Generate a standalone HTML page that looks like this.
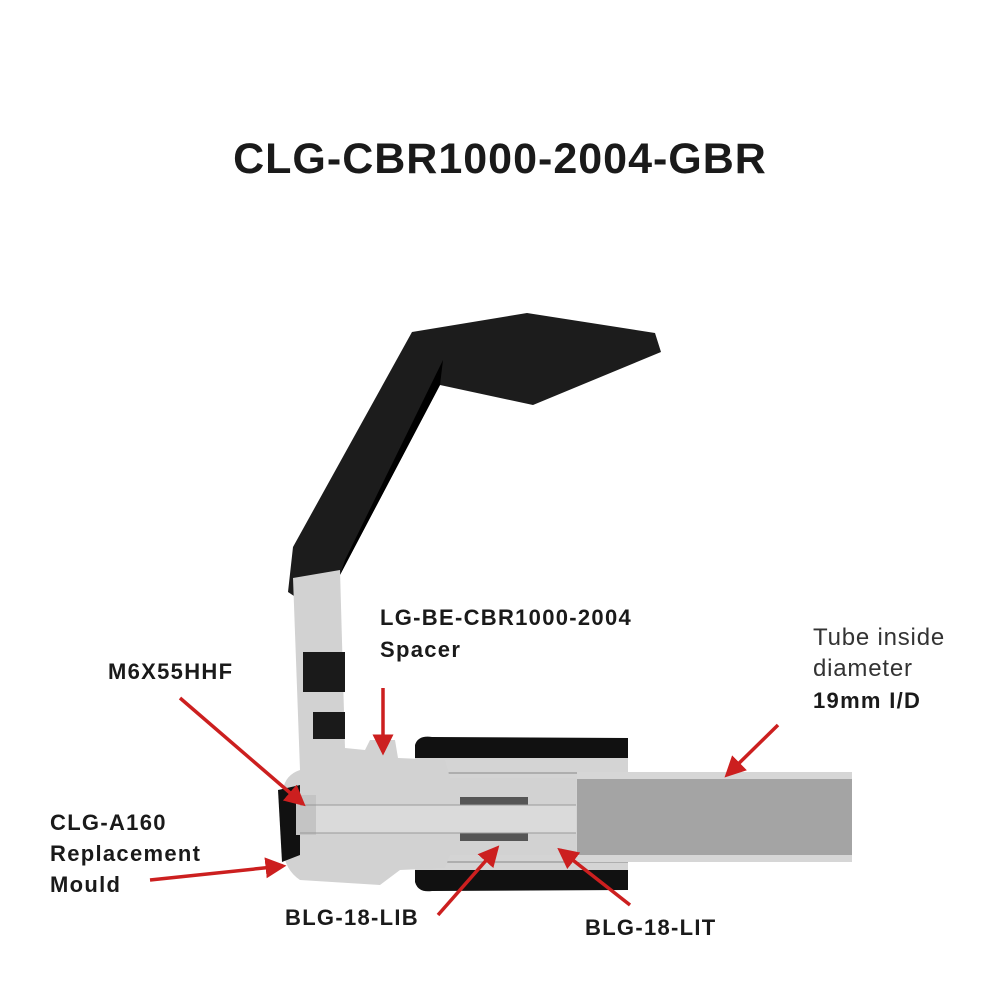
<!DOCTYPE html>
<html><head><meta charset="utf-8"><style>
html,body{margin:0;padding:0;background:#fff;}
svg{display:block;}
text{font-family:"Liberation Sans",sans-serif;fill:#1a1a1a;}
.b{font-weight:bold;font-size:22px;letter-spacing:1.3px;}
.n{font-size:24px;fill:#333;letter-spacing:0.8px;}
</style></head><body>
<svg width="1000" height="1000" viewBox="0 0 1000 1000" xmlns="http://www.w3.org/2000/svg">
<defs>
<marker id="ah" markerWidth="6" markerHeight="6" refX="5" refY="3" orient="auto" markerUnits="strokeWidth">
<path d="M0,0 L6,3 L0,6 Z" fill="#cc1f1f"/></marker>
</defs>
<text x="500" y="173" text-anchor="middle" font-weight="bold" font-size="43" letter-spacing="1">CLG-CBR1000-2004-GBR</text>
<!-- lever -->
<path d="M288,592 L293,547 L412,332 L527,313 L655,333 L661,352 L533,405 L440,385 L340,575 L300,600 Z" fill="#1c1c1c"/>
<path d="M440,385 L443,360 L345,560 L340,575 Z" fill="#000"/>
<!-- collar -->
<path d="M415,745 Q418,735 432,737 L628,738 L628,758 L415,758 Z" fill="#111"/>
<path d="M415,882 Q418,893 432,891 L628,890 L628,870 L415,870 Z" fill="#111"/>
<rect x="415" y="758" width="213" height="112" fill="#d4d4d4"/>
<line x1="415" y1="773" x2="628" y2="773" stroke="#888" stroke-width="1"/>
<line x1="415" y1="862" x2="628" y2="862" stroke="#888" stroke-width="1"/>
<!-- tube -->
<rect x="577" y="772" width="275" height="90" fill="#d6d6d6"/>
<rect x="577" y="779" width="275" height="76" fill="#a4a4a4"/>
<!-- gray body -->
<path d="M293,578 L340,570 L345,748 L365,750 L370,740 L395,740 L398,758 L445,760 L450,778 L576,778 L576,855 L450,855 L445,868 L400,870 L380,885 L300,880 Q285,870 283,850 L283,790 Q285,775 300,770 Z" fill="#d2d2d2"/>
<rect x="303" y="652" width="42" height="40" fill="#1a1a1a"/>
<rect x="313" y="712" width="32" height="27" fill="#1a1a1a"/>
<!-- left cup -->
<path d="M278,790 L300,785 L300,855 L282,862 Z" fill="#111"/>
<rect x="296" y="795" width="20" height="40" fill="#c4c4c4"/>
<rect x="316" y="805" width="260" height="28" fill="#dadada"/>
<rect x="460" y="797" width="68" height="8" fill="#555"/>
<rect x="460" y="833" width="68" height="8" fill="#555"/>
<line x1="300" y1="805" x2="576" y2="805" stroke="#999"/>
<line x1="300" y1="833" x2="576" y2="833" stroke="#999"/>
<!-- arrows -->
<g stroke="#cc1f1f" stroke-width="3.5" fill="none" marker-end="url(#ah)">
<line x1="180" y1="698" x2="303" y2="804"/>
<line x1="383" y1="688" x2="383" y2="752"/>
<line x1="150" y1="880" x2="283" y2="866"/>
<line x1="438" y1="915" x2="497" y2="848"/>
<line x1="630" y1="905" x2="560" y2="850"/>
<line x1="778" y1="725" x2="727" y2="775"/>
</g>
<text class="b" x="108" y="679">M6X55HHF</text>
<text class="b" x="380" y="625">LG-BE-CBR1000-2004</text>
<text class="b" x="380" y="657">Spacer</text>
<text class="n" x="813" y="645">Tube inside</text>
<text class="n" x="813" y="676">diameter</text>
<text class="b" x="813" y="708">19mm I/D</text>
<text class="b" x="50" y="830">CLG-A160</text>
<text class="b" x="50" y="861">Replacement</text>
<text class="b" x="50" y="892">Mould</text>
<text class="b" x="285" y="925">BLG-18-LIB</text>
<text class="b" x="585" y="935">BLG-18-LIT</text>
</svg>
</body></html>
